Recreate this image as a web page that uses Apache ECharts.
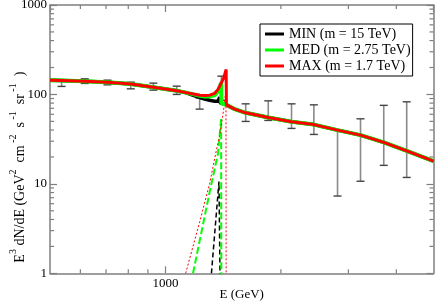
<!DOCTYPE html>
<html><head><meta charset="utf-8">
<script src="https://cdn.jsdelivr.net/npm/echarts@6/dist/echarts.min.js"></script>
<style>html,body{margin:0;padding:0;background:#fff}#c{width:436px;height:302px}</style>
</head><body><div id="c"></div>
<script>
const xMin = 500, xMax = 5000, yMin = 1, yMax = 1000;
const xMinorTicks = [600, 700, 800, 900, 2000, 3000, 4000];
const yMinorTicks = [2,3,4,5,6,7,8,9,20,30,40,50,60,70,80,90,200,300,400,500,600,700,800,900];

// data points with error bars
const barE    = [536, 616, 706, 812, 930, 1070, 1228, 1399, 1619, 1854, 2132, 2438, 2810, 3226, 3709, 4257];
const barLow  = [122.9, 132.7, 128.0, 115.5, 111.7, 100, 68.5, 86, 49.9, 51.2, 41.7, 35.7, 7.31, 10.7, 16.1, 11.8];
const barHigh = [143.3, 149.4, 144.5, 137.2, 133.8, 123.8, 90.9, 160.1, 78.5, 84.8, 78.5, 76.5, 39.9, 53.4, 75.5, 82.7];

// common background parts of total spectra
const bgLeftE  = [500, 536, 616, 706, 812, 930, 1070, 1123];
const bgLeftV  = [144.5, 143.5, 140.4, 137.2, 131, 120.5, 110, 105.5];
const bgRightE = [1445, 1515, 1619, 1854, 2132, 2438, 2810, 3226, 3709, 4257, 5000];
const bgRightV = [76, 68.5, 62.3, 55.3, 49.4, 46, 39.9, 35.1, 29.1, 23.4, 18.0];

// bump region of total spectra
const minBumpE = [1157, 1192, 1228, 1266, 1304, 1344, 1371, 1385, 1389];
const minBumpV = [101, 96.5, 92.5, 89, 86, 84, 84, 93, 80.5];
const medBumpE = [1192, 1228, 1266, 1304, 1344, 1371, 1385, 1397, 1399];
const medBumpV = [99.5, 96.5, 95, 95, 98, 108, 120, 135, 80];
const maxBumpE = [1192, 1228, 1266, 1304, 1344, 1371, 1393, 1418, 1440, 1442];
const maxBumpV = [100.5, 98, 97, 98, 103, 114, 130, 152, 190, 76.5];

// signal-only components
const minSigE = [1318, 1379, 1390];
const minSigV = [1, 10.6, 0.5];
const medSigE = [1180, 1304, 1371, 1397, 1399];
const medSigV = [1, 8.1, 21.9, 53, 0.5];
const maxSigE = [1129, 1228, 1304, 1358, 1385, 1418, 1438, 1440];
const maxSigV = [1, 3.74, 10.1, 23.9, 35.1, 66.8, 111.7, 0.5];

const names = ['MIN (m = 15 TeV)', 'MED (m = 2.75 TeV)', 'MAX (m = 1.7 TeV)'];

const zip = (a, b) => a.map((v, i) => [v, b[i]]);
const total = (e, v) => zip(bgLeftE, bgLeftV).concat(zip(e, v), zip(bgRightE, bgRightV));

const FONT = 'Liberation Serif';
const AX = '#7f7f7f';

function axisCommon(extra) {
  return Object.assign({
    type: 'log', logBase: 10,
    nameMoveOverlap: false,
    axisLine: { show: true, onZero: false, lineStyle: { color: AX, width: 1.5 } },
    axisTick: { show: true, inside: true, length: 7, lineStyle: { color: AX, width: 1.2 } },
    splitLine: { show: false },
    minorTick: { show: false },
    axisLabel: { show: false }
  }, extra);
}

const chart = echarts.init(document.getElementById('c'), null, { renderer: 'canvas' });
chart.setOption({
  animation: false,
  backgroundColor: '#fff',
  grid: { left: 50, right: 2.5, top: 5, bottom: 28.7, containLabel: false, outerBoundsMode: 'none' },
  legend: {
    data: names,
    orient: 'vertical', left: 260, top: 24,
    itemWidth: 19, itemHeight: 3, itemGap: 0,
    icon: 'rect',
    padding: [2, 2, 2, 5],
    backgroundColor: '#fff', borderColor: '#000', borderWidth: 1, borderRadius: 0,
    textStyle: { fontFamily: FONT, fontSize: 14, color: '#000', lineHeight: 16 },
    selectedMode: false
  },
  xAxis: [
    axisCommon({
      min: xMin, max: xMax, position: 'bottom',
      axisLabel: { show: true, color: '#000', fontFamily: FONT, fontSize: 13, margin: 4,
        showMinLabel: false, showMaxLabel: false,
        formatter: v => String(Math.round(v)) },
      name: 'E (GeV)', nameLocation: 'middle', nameGap: 15,
      nameTextStyle: { fontFamily: FONT, fontSize: 13, color: '#000' }
    }),
    axisCommon({ min: xMin, max: xMax, position: 'top' })
  ],
  yAxis: [
    axisCommon({
      min: yMin, max: yMax, position: 'left',
      axisLabel: { show: true, color: '#000', fontFamily: FONT, fontSize: 13, margin: 3,
        formatter: v => String(Math.round(v)) },
      name: '{n|E}{s|3}{n| dN/dE (GeV}{s|2}{n|  cm}{s| -2}{n|  s}{s| -1}{n|  sr}{s| -1}{n|  )}',
      nameLocation: 'middle', nameGap: 18, nameRotate: 90,
      nameTextStyle: {
        color: '#000', fontFamily: FONT, fontSize: 14, padding: [0, 56, 0, 0],
        rich: {
          n: { fontFamily: FONT, fontSize: 14, lineHeight: 24, color: '#000' },
          s: { fontFamily: FONT, fontSize: 10, lineHeight: 12, color: '#000', verticalAlign: 'top' }
        }
      }
    }),
    axisCommon({ min: yMin, max: yMax, position: 'right' })
  ],
  series: [
    {
      type: 'custom', silent: true, xAxisIndex: 0, yAxisIndex: 0,
      data: xMinorTicks.map(v => [v, yMin]),
      renderItem: (params, api) => {
        const b = api.coord([api.value(0), yMin]);
        const t = api.coord([api.value(0), yMax]);
        return { type: 'group', children: [
          { type: 'line', shape: { x1: b[0], y1: b[1], x2: b[0], y2: b[1] - 4 }, style: { stroke: AX, lineWidth: 1.2 } },
          { type: 'line', shape: { x1: t[0], y1: t[1], x2: t[0], y2: t[1] + 4 }, style: { stroke: AX, lineWidth: 1.2 } }
        ] };
      }
    },
    {
      type: 'custom', silent: true, xAxisIndex: 0, yAxisIndex: 0,
      data: yMinorTicks.map(v => [xMin, v]),
      renderItem: (params, api) => {
        const l = api.coord([xMin, api.value(1)]);
        const r = api.coord([xMax, api.value(1)]);
        return { type: 'group', children: [
          { type: 'line', shape: { x1: l[0], y1: l[1], x2: l[0] + 4, y2: l[1] }, style: { stroke: AX, lineWidth: 1.2 } },
          { type: 'line', shape: { x1: r[0], y1: r[1], x2: r[0] - 4, y2: r[1] }, style: { stroke: AX, lineWidth: 1.2 } }
        ] };
      }
    },
    {
      type: 'custom', silent: true, name: 'data',
      data: barE.map((e, i) => [e, barLow[i], barHigh[i]]),
      encode: { x: 0, y: [1, 2] },
      renderItem: (params, api) => {
        const lo = api.coord([api.value(0), api.value(1)]);
        const hi = api.coord([api.value(0), api.value(2)]);
        const w = 4;
        return { type: 'group', children: [
          { type: 'line', shape: { x1: lo[0], y1: lo[1], x2: hi[0], y2: hi[1] }, style: { stroke: '#8a8a8a', lineWidth: 1.6 } },
          { type: 'line', shape: { x1: lo[0] - w, y1: lo[1], x2: lo[0] + w, y2: lo[1] }, style: { stroke: '#444', lineWidth: 1.4 } },
          { type: 'line', shape: { x1: hi[0] - w, y1: hi[1], x2: hi[0] + w, y2: hi[1] }, style: { stroke: '#444', lineWidth: 1.4 } }
        ] };
      }
    },
    { type: 'line', name: 'minSig', data: zip(minSigE, minSigV), showSymbol: false, symbol: 'none', silent: true,
      lineStyle: { color: '#000', width: 1.5, type: [5, 3] } },
    { type: 'line', name: 'medSig', data: zip(medSigE, medSigV), showSymbol: false, symbol: 'none', silent: true,
      lineStyle: { color: '#00ff00', width: 2, type: [7, 3] } },
    { type: 'line', name: 'maxSig', data: zip(maxSigE, maxSigV), showSymbol: false, symbol: 'none', silent: true,
      lineStyle: { color: '#ff0000', width: 1, type: [2, 2] } },
    { type: 'line', name: names[0], data: total(minBumpE, minBumpV), showSymbol: false, symbol: 'none',
      color: '#000', itemStyle: { color: '#000' }, lineStyle: { color: '#000', width: 3.5 } },
    { type: 'line', name: names[1], data: total(medBumpE, medBumpV), showSymbol: false, symbol: 'none',
      color: '#00ff00', itemStyle: { color: '#00ff00' }, lineStyle: { color: '#00ff00', width: 4 } },
    { type: 'line', name: names[2], data: total(maxBumpE, maxBumpV), showSymbol: false, symbol: 'none',
      color: '#ff0000', itemStyle: { color: '#ff0000' }, lineStyle: { color: '#ff0000', width: 3 } }
  ]
});
</script>
</body></html>
